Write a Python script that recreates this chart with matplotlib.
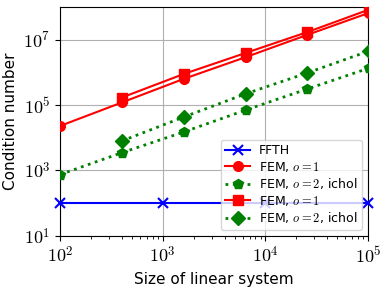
import matplotlib
matplotlib.use("Agg")
import matplotlib.pyplot as plt
import numpy as np

plt.rcParams['mathtext.fontset'] = 'cm'
plt.rcParams['font.family'] = ['DejaVu Sans']

x_ffth = [1e2, 1e3, 1e4, 1e5]
y_ffth = [100, 100, 100, 100]

x_fem = [100, 400, 1600, 6400, 25600, 102400]
y_fem1_circ = [2.3e4, 1.2e5, 6.3e5, 2.9e6, 1.4e7, 6.6e7]
y_fem2_pent = [7.5e2, 3.5e3, 1.5e4, 7.0e4, 3.1e5, 1.35e6]

x_fem_b = [400, 1600, 6400, 25600, 102400]
y_fem1_sq = [1.7e5, 8.9e5, 3.9e6, 1.7e7, 8.3e7]
y_fem2_dia = [8.0e3, 4.3e4, 2.2e5, 9.6e5, 4.5e6]

labels = ['FFTH', r'FEM, $o=1$', r'FEM, $o=2$, ichol', r'FEM, $o=1$', r'FEM, $o=2$, ichol']

fig = plt.figure(figsize=(3.83, 2.88), dpi=100)
ax = fig.add_axes([0.157, 0.181, 0.804, 0.795])

ax.plot(x_ffth, y_ffth, color='blue', marker='x', ms=7, mew=1.5, lw=1.5, label=labels[0], clip_on=False, zorder=3)
ax.plot(x_fem, y_fem1_circ, color='red', marker='o', ms=7, lw=1.5, label=labels[1], zorder=3)
ax.plot(x_fem, y_fem2_pent, color='green', marker='p', ms=7, lw=2, ls=':', label=labels[2], zorder=3)
ax.plot(x_fem_b, y_fem1_sq, color='red', marker='s', ms=7, lw=1.5, label=labels[3], zorder=3)
ax.plot(x_fem_b, y_fem2_dia, color='green', marker='D', ms=7, lw=2, ls=':', label=labels[4], zorder=3)

ax.set_xscale('log')
ax.set_yscale('log')
ax.set_xlim(1e2, 1e5)
ax.set_ylim(1e1, 1e8)
ax.set_yticks([1e1, 1e3, 1e5, 1e7])
ax.set_yticklabels([r'$10^{1}$', r'$10^{3}$', r'$10^{5}$', r'$10^{7}$'])
ax.set_xticks([1e2, 1e3, 1e4, 1e5])
ax.set_xticklabels([r'$10^{2}$', r'$10^{3}$', r'$10^{4}$', r'$10^{5}$'])
ax.yaxis.set_minor_locator(matplotlib.ticker.NullLocator())
ax.tick_params(axis='both', which='major', labelsize=13)
ax.grid(True, which='major', color='#b0b0b0', lw=0.8)
ax.set_axisbelow(True)
ax.set_xlabel('Size of linear system', fontsize=11)
ax.set_ylabel('Condition number', fontsize=11)
ax.legend(loc='lower right', fontsize=9, framealpha=0.8, labelspacing=0.2,
          borderpad=0.35, handlelength=2.0, handletextpad=0.7)

fig.savefig('out.png', dpi=100)
